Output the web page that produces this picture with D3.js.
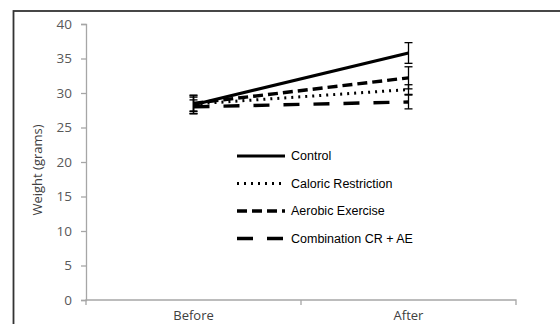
<!DOCTYPE html>
<html>
<head>
<meta charset="utf-8">
<script src="https://cdn.jsdelivr.net/npm/d3@7"></script>
<style>
  body { margin: 0; background: #fff; }
  svg { display: block; }
</style>
</head>
<body>
<div id="chart"></div>
<script>
// Data
const phases = ["Before", "After"];
const groups = ["Control", "Caloric Restriction", "Aerobic Exercise", "Combination CR + AE"];
const before = [28.3, 28.4, 28.5, 28.0];
const after = [35.8, 30.5, 32.2, 28.7];
const beforeErr = [1.3, 1.0, 1.2, 1.0];
const afterErr = [1.5, 0.7, 1.6, 1.0];
const yTicks = [0, 5, 10, 15, 20, 25, 30, 35, 40];

const W = 560, H = 324;
const margin = { top: 24, right: 44, bottom: 24, left: 86 };
const width = W - margin.left - margin.right;
const height = H - margin.top - margin.bottom;

const root = d3.select("#chart")
    .append("svg")
    .attr("width", W)
    .attr("height", H);

// outer frame
root.append("rect")
    .attr("x", 13.5)
    .attr("y", 11)
    .attr("width", 600)
    .attr("height", 400)
    .attr("fill", "none")
    .attr("stroke", "#333")
    .attr("stroke-width", 1.8);

const svg = root.append("g")
    .attr("transform", `translate(${margin.left},${margin.top})`);

const x = d3.scaleBand()
    .domain(phases)
    .range([0, width]);

const y = d3.scaleLinear()
    .domain([0, 40])
    .range([height, 0]);

const tickFont = "'Open Sans', sans-serif";

// y axis
const yAxis = svg.append("g")
    .call(d3.axisLeft(y).tickValues(yTicks).tickSize(5).tickPadding(9));
yAxis.select(".domain").attr("stroke", "#a6a6a6").attr("stroke-width", 1.3);
yAxis.selectAll(".tick line").attr("stroke", "#a6a6a6").attr("stroke-width", 1.3);
yAxis.selectAll(".tick text")
    .attr("fill", "#595959")
    .style("font-family", tickFont)
    .style("font-size", "13.5px");

// x axis: tick marks at category boundaries, labels centred
const xAxis = svg.append("g")
    .attr("transform", `translate(0,${height})`);
xAxis.append("path")
    .attr("d", `M0,5V0H${width}V5`)
    .attr("fill", "none")
    .attr("stroke", "#a6a6a6")
    .attr("stroke-width", 1.3);
xAxis.selectAll(".sep")
    .data(phases.slice(1))
    .enter()
    .append("line")
    .attr("x1", d => x(d))
    .attr("x2", d => x(d))
    .attr("y1", 0)
    .attr("y2", 5)
    .attr("stroke", "#a6a6a6")
    .attr("stroke-width", 1.3);
xAxis.selectAll(".lab")
    .data(phases)
    .enter()
    .append("text")
    .attr("x", d => x(d) + x.bandwidth() / 2)
    .attr("y", 20)
    .attr("text-anchor", "middle")
    .attr("fill", "#404040")
    .style("font-family", tickFont)
    .style("font-size", "13px")
    .text(d => d);

// y label
root.append("text")
    .attr("transform", "rotate(-90)")
    .attr("x", -170)
    .attr("y", 42)
    .attr("text-anchor", "middle")
    .attr("fill", "#404040")
    .style("font-family", tickFont)
    .style("font-size", "13px")
    .text("Weight (grams)");

const styles = [
    { dash: null, w: 3.2 },
    { dash: "2,5", w: 3 },
    { dash: "10,5", w: 3.4 },
    { dash: "16,14", w: 3.4 }
];

const cx = p => x(p) + x.bandwidth() / 2;

// error bars
groups.forEach((g, i) => {
    [[phases[0], before[i], beforeErr[i]], [phases[1], after[i], afterErr[i]]].forEach(([p, v, e]) => {
        const bar = svg.append("g").attr("stroke", "#000").attr("stroke-width", 1.3);
        bar.append("line")
            .attr("x1", cx(p)).attr("x2", cx(p))
            .attr("y1", y(v + e)).attr("y2", y(v - e));
        [v + e, v - e].forEach(t => {
            bar.append("line")
                .attr("x1", cx(p) - 4).attr("x2", cx(p) + 4)
                .attr("y1", y(t)).attr("y2", y(t));
        });
    });
});

// series lines
const line = d3.line()
    .x(d => cx(d[0]))
    .y(d => y(d[1]));

groups.forEach((g, i) => {
    svg.append("path")
        .datum([[phases[0], before[i]], [phases[1], after[i]]])
        .attr("d", line)
        .attr("fill", "none")
        .attr("stroke", "#000")
        .attr("stroke-width", styles[i].w)
        .attr("stroke-dasharray", styles[i].dash);
});

// legend
const legend = root.append("g")
    .attr("transform", "translate(237,156)");
groups.forEach((g, i) => {
    const row = legend.append("g").attr("transform", `translate(0,${i * 27.5})`);
    row.append("line")
        .attr("x1", 0).attr("x2", 48)
        .attr("y1", 0).attr("y2", 0)
        .attr("stroke", "#000")
        .attr("stroke-width", styles[i].w)
        .attr("stroke-dasharray", styles[i].dash);
    row.append("text")
        .attr("x", 54)
        .attr("y", 0)
        .attr("dy", "0.35em")
        .attr("fill", "#000")
        .style("font-family", "'Liberation Sans', Arial, sans-serif")
        .style("font-size", "12.5px")
        .text(g);
});
</script>
</body>
</html>
